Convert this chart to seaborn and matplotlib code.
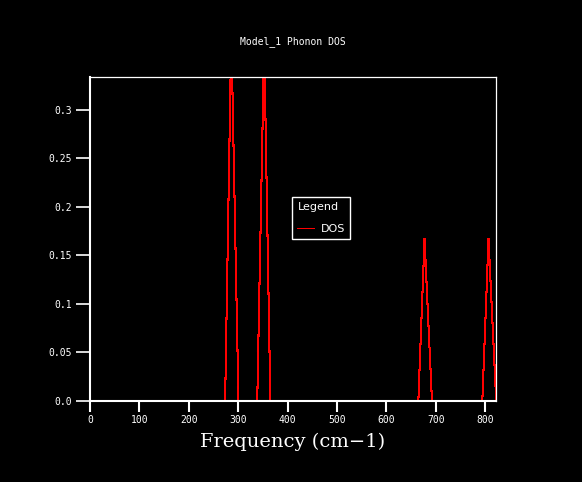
import pandas as pd
import matplotlib
matplotlib.use("Agg")
import matplotlib.pyplot as plt
import seaborn as sns

# phonon DOS (cm-1, states)
freq = [0, 273.5, 286, 300.5, 338.5, 352.5, 365, 664.5, 677, 692, 794, 806.5, 822]
dos = [0, 0, 0.38, 0, 0, 0.37, 0, 0, 0.167, 0, 0, 0.167, 0]

x_ticks = [0, 100, 200, 300, 400, 500, 600, 700, 800]
y_ticks = [0.0, 0.05, 0.1, 0.15, 0.2, 0.25, 0.3]
y_tick_labels = ["0.0", "0.05", "0.1", "0.15", "0.2", "0.25", "0.3"]

df = pd.DataFrame({"Frequency": freq, "DOS": dos})

sns.set_style("ticks", rc={
    "axes.facecolor": "black",
    "figure.facecolor": "black",
    "axes.edgecolor": "white",
    "xtick.color": "white",
    "ytick.color": "white",
    "text.color": "white",
    "axes.labelcolor": "white",
})
plt.rcParams["font.family"] = ["DejaVu Sans Mono", "DejaVu Sans"]

fig = plt.figure(figsize=(5.82, 4.82), dpi=100)
ax = fig.add_axes([0.1546, 0.1687, 0.697, 0.6715])

sns.lineplot(data=df, x="Frequency", y="DOS", ax=ax, color="red",
             linewidth=0.75, label="DOS", antialiased=False)

ax.set_xlim(0, 820.9)
ax.set_ylim(0, 0.334)
ax.set_xticks(x_ticks)
ax.set_yticks(y_ticks)
ax.set_yticklabels(y_tick_labels)
ax.tick_params(axis="x", direction="out", length=8, width=1.5, labelsize=7, pad=2)
ax.tick_params(axis="y", direction="out", length=10, width=1.2, labelsize=7, pad=3)

for side in ["left", "bottom"]:
    ax.spines[side].set_linewidth(1.5)
for side in ["top", "right"]:
    ax.spines[side].set_visible(True)
    ax.spines[side].set_linewidth(0.9)

ax.set_title("Model_1 Phonon DOS", fontsize=7, pad=24)
ax.set_xlabel("Frequency (cm\u22121)", fontsize=14, family="DejaVu Serif", labelpad=6)
ax.set_ylabel("")

leg = ax.legend(title="Legend", loc="upper left", bbox_to_anchor=(0.499, 0.628),
                borderaxespad=0, fancybox=False, framealpha=1, facecolor="black",
                edgecolor="white", handlelength=1.5, handletextpad=0.6,
                borderpad=0.45, labelspacing=1.05,
                prop={"family": "DejaVu Sans", "size": 8},
                title_fontproperties={"family": "DejaVu Sans", "size": 8})
leg._legend_box.align = "left"
leg.get_frame().set_linewidth(1.0)
for line in leg.get_lines():
    line.set_linewidth(0.72)
    line.set_color("red")
    line.set_antialiased(False)
for text in leg.get_texts():
    text.set_color("white")
leg.get_title().set_color("white")

fig.savefig("out.png", dpi=100, facecolor="black")
